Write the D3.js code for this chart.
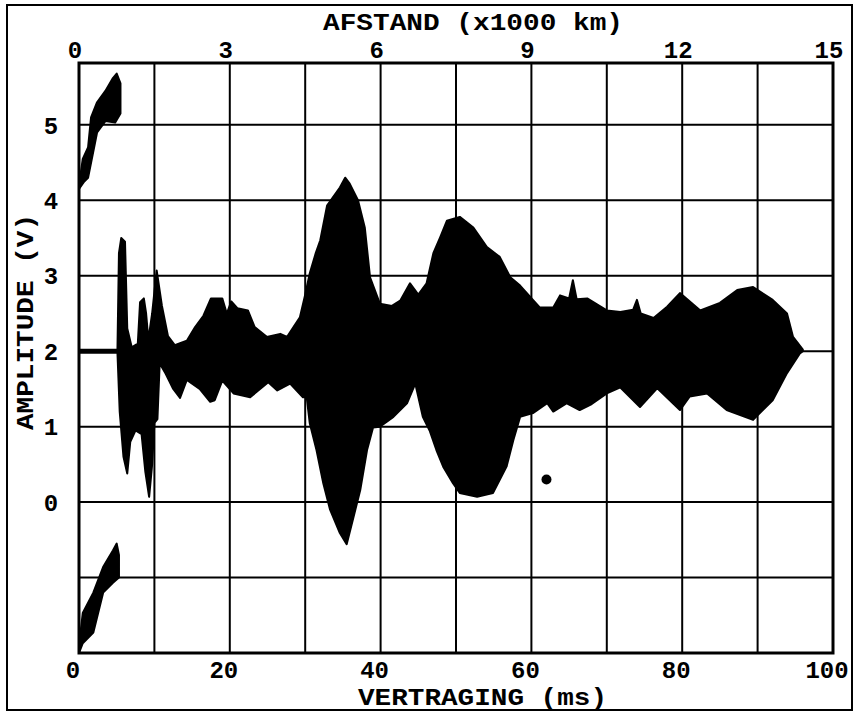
<!DOCTYPE html>
<html lang="nl">
<head>
<meta charset="UTF-8" />
<title>Vertraging - amplitude</title>
<script src="https://cdn.jsdelivr.net/npm/d3@7"></script>
<style>
  body { margin: 0; background: #fff; }
  svg {
    display: block;
    font-family: "Liberation Mono", "Courier New", monospace;
    font-weight: bold;
  }
  .grid line { stroke: #000; stroke-width: 2; }
  .frame { fill: none; stroke: #000; }
</style>
</head>
<body>
<svg id="chart" width="858" height="713"></svg>
<script>
// echo trace envelope, [delay in ms, volts]
const traceTop = [
  [0,2.02],[5.1,2.02],[5.3,3.3],[5.6,3.5],[6.1,3.45],[6.4,2.3],[7.0,2.05],[7.8,2.1],
  [8.1,2.65],[8.6,2.7],[8.9,2.5],[9.2,2.15],[9.7,2.5],[10.3,3.07],[11.0,2.6],[11.8,2.2],
  [12.7,2.08],[14.3,2.14],[15.4,2.32],[16.5,2.47],[17.5,2.7],[19.0,2.7],[19.6,2.5],
  [20.2,2.66],[21.0,2.57],[22.4,2.54],[23.3,2.32],[24.9,2.19],[26.7,2.23],[27.6,2.19],
  [29.3,2.45],[30.0,2.75],[30.6,3.03],[31.4,3.3],[32.0,3.47],[32.9,3.93],[34.6,4.17],
  [35.3,4.3],[35.9,4.22],[37.0,4.0],[37.9,3.64],[38.6,2.98],[39.9,2.63],[41.5,2.6],
  [42.6,2.67],[43.9,2.9],[45.0,2.75],[46.1,2.9],[47.0,3.3],[47.9,3.51],[48.8,3.73],
  [50.5,3.78],[52.3,3.64],[54.1,3.38],[55.8,3.25],[57.2,2.98],[58.5,2.87],[60.2,2.68],
  [61.1,2.58],[62.9,2.58],[63.8,2.74],[65.0,2.7],[65.5,2.94],[66.0,2.69],[67.4,2.7],
  [70.0,2.54],[71.8,2.52],[73.5,2.55],[74.0,2.68],[74.5,2.5],[76.2,2.44],[78.0,2.59],
  [79.7,2.77],[82.4,2.54],[85.0,2.64],[87.3,2.81],[89.4,2.85],[92.0,2.68],[93.9,2.5],
  [94.7,2.19],[96.0,2.02]
];
const traceBottom = [
  [0,1.98],[5.1,1.98],[5.4,1.2],[5.9,0.6],[6.4,0.38],[6.8,0.8],[7.5,0.95],[8.3,0.9],
  [8.8,0.4],[9.3,0.07],[9.7,0.5],[10.0,1.05],[10.4,1.1],[10.7,1.84],[11.5,1.7],[12.5,1.5],
  [13.4,1.38],[14.3,1.62],[16.0,1.5],[17.4,1.33],[18.0,1.35],[19.0,1.61],[20.5,1.44],
  [22.7,1.39],[25.1,1.59],[26.3,1.48],[28.0,1.57],[29.7,1.39],[30.2,1.39],[30.6,1.05],
  [31.5,0.69],[32.4,0.25],[33.3,-0.1],[34.6,-0.41],[35.5,-0.56],[36.4,-0.2],[37.3,0.16],
  [38.2,0.69],[39.0,0.99],[39.9,1.0],[41.7,1.13],[43.5,1.31],[44.6,1.57],[45.6,1.13],
  [46.5,0.95],[47.4,0.69],[48.3,0.47],[49.6,0.25],[50.5,0.12],[52.8,0.07],[54.9,0.12],
  [56.7,0.47],[57.6,0.82],[58.5,1.13],[60.2,1.18],[62.1,1.31],[62.9,1.2],[64.7,1.31],
  [66.4,1.22],[68.0,1.3],[70.0,1.44],[71.8,1.52],[74.4,1.26],[76.7,1.51],[79.7,1.22],
  [81.0,1.4],[83.3,1.44],[85.9,1.22],[89.4,1.09],[92.0,1.35],[93.9,1.71],[95.6,1.97],
  [96.0,2.0]
];

// retrace smears at the left edge
const upperSmearTop = [[0,4.2],[0.5,4.55],[1.2,4.7],[1.6,5.1],[2.4,5.3],[3.5,5.45],[4.5,5.62],[5.0,5.68],[5.5,5.55]];
const upperSmearBottom = [[0,4.15],[0.7,4.25],[1.2,4.3],[2.0,4.7],[2.4,4.9],[3.5,5.05],[4.8,5.03],[5.5,5.15]];
const lowerSmearTop = [[0,-1.9],[0.5,-1.47],[1.9,-1.2],[3.2,-0.86],[4.5,-0.64],[5.0,-0.55],[5.3,-0.7]];
const lowerSmearBottom = [[0,-2.0],[0.5,-1.87],[1.9,-1.73],[3.2,-1.2],[4.5,-1.07],[5.3,-1.0]];
const specks = [[62.0,0.3]];

const delayTicks = [0, 20, 40, 60, 80, 100];
const distanceTicks = [0, 3, 6, 9, 12, 15];
const ampTicks = [0, 1, 2, 3, 4, 5];
const ampGrid = [-1, 0, 1, 2, 3, 4, 5];

const svg = d3.select("#chart");

const x = d3.scaleLinear().domain([0, 100]).range([79, 833]);
const xKm = d3.scaleLinear().domain([0, 15]).range([79, 833]);
const y = d3.scaleLinear().domain([-2, 5.82]).range([653, 63]);

// outer frame
svg.append("rect").attr("class", "frame")
    .attr("x", 7).attr("y", 5).attr("width", 845).attr("height", 705)
    .attr("stroke-width", 2);

// grid
const grid = svg.append("g").attr("class", "grid");
grid.selectAll(".v").data(d3.range(10, 100, 10)).enter().append("line")
    .attr("x1", d => x(d)).attr("x2", d => x(d))
    .attr("y1", y.range()[0]).attr("y2", y.range()[1]);
grid.selectAll(".h").data(ampGrid).enter().append("line")
    .attr("x1", x(0)).attr("x2", x(100))
    .attr("y1", d => y(d)).attr("y2", d => y(d));

svg.append("rect").attr("class", "frame")
    .attr("x", x(0)).attr("y", y(5.82))
    .attr("width", x(100) - x(0)).attr("height", y(-2) - y(5.82))
    .attr("stroke-width", 3);

// trace
const outline = d3.line().x(d => x(d[0])).y(d => y(d[1]));
function blob(top, bottom) {
  svg.append("path")
      .attr("d", outline(top.concat(bottom.slice().reverse())) + "Z")
      .attr("fill", "#000")
      .attr("stroke", "#000")
      .attr("stroke-width", 2)
      .attr("stroke-linejoin", "round");
}
blob(traceTop, traceBottom);
blob(upperSmearTop, upperSmearBottom);
blob(lowerSmearTop, lowerSmearBottom);

svg.selectAll(".speck").data(specks).enter().append("circle")
    .attr("cx", d => x(d[0])).attr("cy", d => y(d[1])).attr("r", 5);

// tick labels
svg.append("g").selectAll("text").data(delayTicks).enter().append("text")
    .attr("x", d => x(d) - 6).attr("y", 678)
    .attr("text-anchor", "middle").attr("font-size", 24)
    .text(d => d);

svg.append("g").selectAll("text").data(distanceTicks).enter().append("text")
    .attr("x", d => xKm(d) - 4).attr("y", 58)
    .attr("text-anchor", "middle").attr("font-size", 24)
    .text(d => d);

svg.append("g").selectAll("text").data(ampTicks).enter().append("text")
    .attr("x", 51).attr("y", d => y(d))
    .attr("dy", "0.36em")
    .attr("text-anchor", "middle").attr("font-size", 24)
    .text(d => d);

// axis titles
svg.append("text")
    .attr("x", 323).attr("y", 30)
    .attr("font-size", 24)
    .attr("textLength", 300).attr("lengthAdjust", "spacingAndGlyphs")
    .text("AFSTAND (x1000 km)");

svg.append("text")
    .attr("x", 358).attr("y", 705)
    .attr("font-size", 24)
    .attr("textLength", 249).attr("lengthAdjust", "spacingAndGlyphs")
    .text("VERTRAGING (ms)");

svg.append("text")
    .attr("transform", "translate(33,430) rotate(-90)")
    .attr("font-size", 24)
    .attr("textLength", 216).attr("lengthAdjust", "spacingAndGlyphs")
    .text("AMPLITUDE (V)");
</script>
</body>
</html>
